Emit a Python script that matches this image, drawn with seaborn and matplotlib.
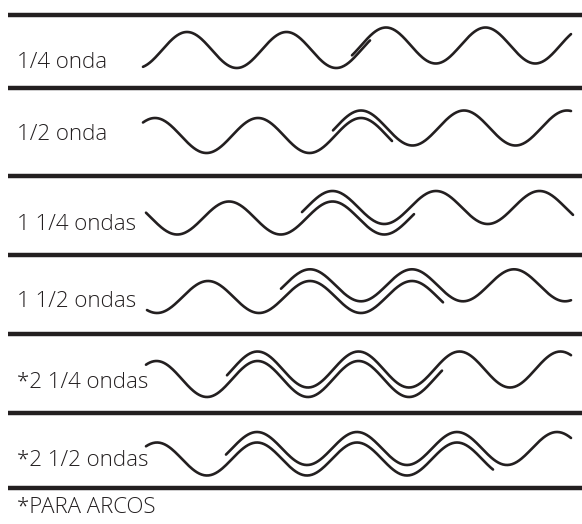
import matplotlib
matplotlib.use("Agg")
import matplotlib.pyplot as plt
import numpy as np
import pandas as pd
import seaborn as sns

sns.set_style("white")
plt.rcParams['font.family'] = ['Open Sans', 'DejaVu Sans']

# side lap of corrugated sheets, one row per case (px)
labels = ["1/4 onda", "1/2 onda", "1 1/4 ondas", "1 1/2 ondas",
          "*2 1/4 ondas", "*2 1/2 ondas"]
label_base = [68, 140.5, 230.5, 307, 388, 465.5]
separators = [15, 88, 176, 255, 334, 413, 488]
footnote = "*PARA ARCOS"

centre_y = [50, 135.5, 218, 297, 379, 459]
amplitude = [18, 17.5, 16.5, 16, 18, 16.5]
period = [99.5, 103, 103.5, 102, 101, 100]
first_crest = [187, 258, 229, 208, 257.5, 257]
lift = [4.5, 7.5, 10.5, 11.7, 9.5, 10.5]    # top sheet raised over the lap

sheet_start = [143, 143, 146, 147, 146, 146]
lower_end = [370, 392, 414, 443, 442, 493]   # first sheet ends
upper_start = [352, 333, 302, 281, 227, 226]  # second sheet starts
sheet_end = [571, 571, 573, 571, 571, 571]

INK = "#231f20"


def wave(i, x0, x1, up):
    x = np.linspace(x0, x1, 300)
    y = centre_y[i] - up - amplitude[i] * np.cos(
        2 * np.pi * (x - first_crest[i]) / period[i])
    return x, y


pieces = []
for i in range(len(labels)):
    for name, (a, b, up) in {
            "lower": (sheet_start[i], lower_end[i], 0),
            "upper": (upper_start[i], sheet_end[i], lift[i])}.items():
        x, y = wave(i, a, b, up)
        pieces.append(pd.DataFrame({"x": x, "y": y,
                                    "piece": f"{i}-{name}"}))
df = pd.concat(pieces, ignore_index=True)

fig = plt.figure(figsize=(5.82, 5.24), dpi=100)
ax = fig.add_axes([0, 0, 1, 1])

sns.lineplot(data=df, x="x", y="y", units="piece", estimator=None,
             sort=False, color=INK, lw=1.9, ax=ax)

for y in separators:
    ax.plot([8, 582], [y, y], color=INK, lw=3.2, solid_capstyle="butt")

for lab, yb in zip(labels, label_base):
    ax.text(17, yb, lab, fontsize=16, color=INK, ha="left",
            va="baseline", fontweight="light")
ax.text(17, 513, footnote, fontsize=16, color=INK, ha="left",
        va="baseline", fontweight="light")

ax.set_xlim(0, 582)
ax.set_ylim(524, 0)
ax.axis("off")

fig.savefig("out.png", dpi=100)
